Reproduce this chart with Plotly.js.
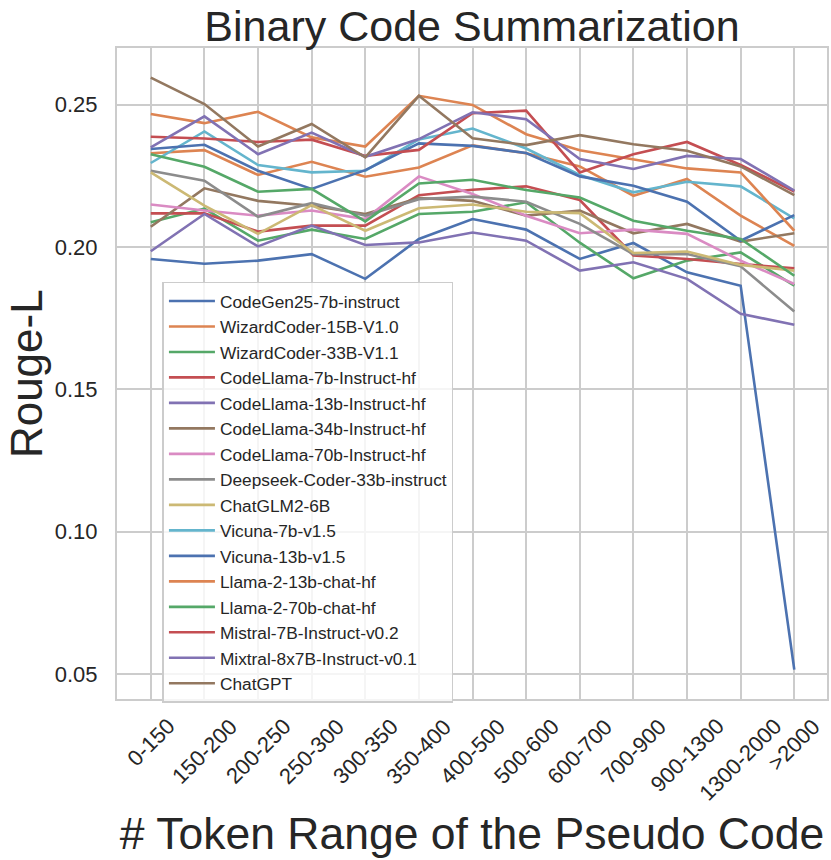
<!DOCTYPE html>
<html>
<head>
<meta charset="utf-8">
<script src="https://cdn.plot.ly/plotly-3.0.1.min.js"></script>
<style>
  html, body { margin: 0; padding: 0; background: #fff; }
  #plt { width: 831px; height: 860px; }
</style>
</head>
<body>
<div id="plt"></div>
<script>
// token ranges on the x axis
var ranges = ['0-150', '150-200', '200-250', '250-300', '300-350', '350-400', '400-500',
              '500-600', '600-700', '700-900', '900-1300', '1300-2000', '>2000'];

// Rouge-L per model
var codegen25   = [0.1958, 0.1941, 0.1952, 0.1975, 0.1888, 0.2028, 0.2098, 0.2061, 0.1958, 0.2014, 0.1911, 0.1864, 0.0515];
var wizard15b   = [0.2329, 0.2340, 0.2253, 0.2299, 0.2247, 0.2279, 0.2357, 0.2329, 0.2283, 0.2180, 0.2239, 0.2110, 0.2004];
var wizard33b   = [0.2087, 0.2135, 0.2022, 0.2061, 0.2028, 0.2116, 0.2124, 0.2157, 0.2015, 0.1890, 0.1952, 0.1981, 0.1864];
var codellama7  = [0.2118, 0.2118, 0.2054, 0.2075, 0.2075, 0.2182, 0.2201, 0.2213, 0.2165, 0.1970, 0.1958, 0.1940, 0.1925];
var codellama13 = [0.1985, 0.2116, 0.2002, 0.2075, 0.2007, 0.2016, 0.2051, 0.2022, 0.1917, 0.1946, 0.1888, 0.1765, 0.1727];
var codellama34 = [0.2071, 0.2206, 0.2162, 0.2145, 0.2116, 0.2172, 0.2162, 0.2110, 0.2128, 0.2048, 0.2081, 0.2019, 0.2048];
var codellama70 = [0.2149, 0.2128, 0.2110, 0.2128, 0.2098, 0.2248, 0.2186, 0.2110, 0.2048, 0.2061, 0.2046, 0.1952, 0.1870];
var deepseek33  = [0.2268, 0.2233, 0.2106, 0.2154, 0.2110, 0.2168, 0.2177, 0.2159, 0.2081, 0.1975, 0.1975, 0.1932, 0.1773];
var chatglm2    = [0.2262, 0.2145, 0.2046, 0.2147, 0.2057, 0.2136, 0.2149, 0.2124, 0.2119, 0.1979, 0.1984, 0.1937, 0.1917];
var vicuna7     = [0.2295, 0.2406, 0.2288, 0.2262, 0.2268, 0.2378, 0.2416, 0.2346, 0.2253, 0.2192, 0.2229, 0.2213, 0.2100];
var vicuna13    = [0.2344, 0.2359, 0.2268, 0.2204, 0.2270, 0.2364, 0.2355, 0.2330, 0.2248, 0.2215, 0.2159, 0.2022, 0.2112];
var llama13     = [0.2467, 0.2435, 0.2475, 0.2385, 0.2353, 0.2531, 0.2499, 0.2396, 0.2340, 0.2309, 0.2276, 0.2262, 0.2057];
var llama70     = [0.2326, 0.2282, 0.2194, 0.2204, 0.2090, 0.2223, 0.2236, 0.2200, 0.2174, 0.2092, 0.2057, 0.2028, 0.1899];
var mistral7    = [0.2387, 0.2381, 0.2369, 0.2377, 0.2320, 0.2341, 0.2470, 0.2479, 0.2262, 0.2326, 0.2369, 0.2288, 0.2195];
var mixtral     = [0.2350, 0.2459, 0.2326, 0.2402, 0.2317, 0.2379, 0.2473, 0.2449, 0.2309, 0.2274, 0.2320, 0.2309, 0.2198];
var chatgpt     = [0.2595, 0.2502, 0.2353, 0.2432, 0.2315, 0.2531, 0.2382, 0.2358, 0.2393, 0.2361, 0.2338, 0.2283, 0.2182];

var models = ['CodeGen25-7b-instruct', 'WizardCoder-15B-V1.0', 'WizardCoder-33B-V1.1',
              'CodeLlama-7b-Instruct-hf', 'CodeLlama-13b-Instruct-hf', 'CodeLlama-34b-Instruct-hf',
              'CodeLlama-70b-Instruct-hf', 'Deepseek-Coder-33b-instruct', 'ChatGLM2-6B',
              'Vicuna-7b-v1.5', 'Vicuna-13b-v1.5', 'Llama-2-13b-chat-hf', 'Llama-2-70b-chat-hf',
              'Mistral-7B-Instruct-v0.2', 'Mixtral-8x7B-Instruct-v0.1', 'ChatGPT'];
var scores = [codegen25, wizard15b, wizard33b, codellama7, codellama13, codellama34,
              codellama70, deepseek33, chatglm2, vicuna7, vicuna13, llama13, llama70,
              mistral7, mixtral, chatgpt];

// seaborn "deep" palette, cycled
var palette = ['#4c72b0', '#dd8452', '#55a868', '#c44e52', '#8172b3',
               '#937860', '#da8bc3', '#8c8c8c', '#ccb974', '#64b5cd'];

var ink = '#262626';
var font = 'Liberation Sans, Arial, Helvetica, sans-serif';

function plot(){
    let gd = document.getElementById('plt');

    let d = models.map((m, i) => ({
        type: 'scatter',
        mode: 'lines',
        name: m,
        x: ranges,
        y: scores[i],
        line: {color: palette[i % palette.length], width: 2.6}
    }));

    // rotated tick labels, centred under each category like matplotlib does
    let ticks = ranges.map(r => ({
        x: r, xref: 'x',
        y: 0, yref: 'paper',
        xanchor: 'center', yanchor: 'top',
        yshift: -12,
        text: r.replace('>', '&gt;'),
        textangle: -45,
        showarrow: false,
        font: {size: 22, color: ink, family: font}
    }));

    // y title sits further out than plotly's axis title allows without automargin
    let ytitle = {
        x: -0.090, xref: 'paper',
        y: 0.5, yref: 'paper',
        xanchor: 'right', yanchor: 'middle',
        text: 'Rouge-L',
        textangle: -90,
        showarrow: false,
        font: {size: 44, color: ink, family: font}
    };

    let l = {
        width: 831,
        height: 860,
        margin: {l: 117, r: 4, t: 48, b: 161},
        paper_bgcolor: '#fff',
        plot_bgcolor: '#fff',
        font: {family: font, color: ink},
        showlegend: true,
        title: {
            text: 'Binary Code Summarization',
            font: {size: 43, color: ink, family: font},
            x: 0.5, xref: 'paper', xanchor: 'center',
            y: 1, yref: 'paper', yanchor: 'bottom',
            pad: {b: 7}
        },
        xaxis: {
            type: 'category',
            range: [-0.63, 12.61],
            showticklabels: false,
            showgrid: true,
            gridcolor: '#cccccc',
            gridwidth: 1.6,
            showline: true,
            mirror: true,
            linecolor: '#cccccc',
            linewidth: 2,
            zeroline: false,
            title: {
                text: '# Token Range of the Pseudo Code',
                font: {size: 44.5, color: ink, family: font},
                standoff: 118
            }
        },
        yaxis: {
            range: [0.0412, 0.2699],
            tickvals: [0.05, 0.10, 0.15, 0.20, 0.25],
            tickformat: '.2f',
            tickfont: {size: 22, color: ink, family: font},
            ticklabelstandoff: 13,
            showgrid: true,
            gridcolor: '#cccccc',
            gridwidth: 1.6,
            showline: true,
            mirror: true,
            linecolor: '#cccccc',
            linewidth: 2,
            zeroline: false
        },
        legend: {
            x: 0.064, y: 0.641,
            xanchor: 'left', yanchor: 'top',
            bgcolor: 'rgba(255,255,255,0.8)',
            bordercolor: '#cccccc',
            borderwidth: 1.5,
            font: {size: 17.3, color: ink, family: font},
            itemwidth: 46
        },
        annotations: ticks.concat([ytitle])
    };
    let c = {
        displayModeBar: false
    };

    Plotly.newPlot(gd, d, l, c);
}

plot();
</script>
</body>
</html>
